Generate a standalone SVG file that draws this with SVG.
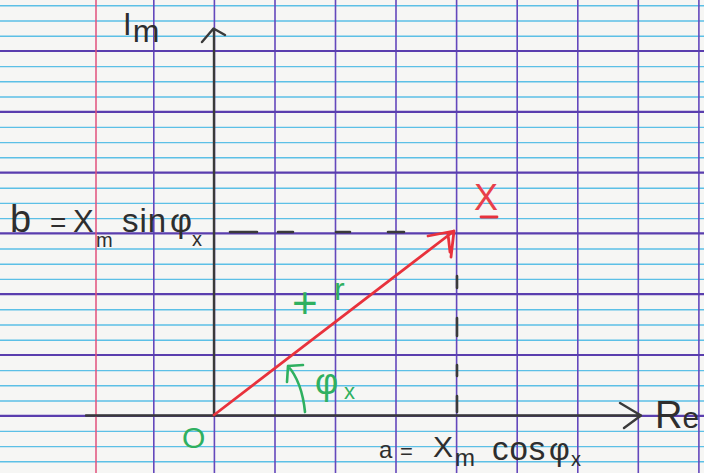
<svg xmlns="http://www.w3.org/2000/svg" width="704" height="473" viewBox="0 0 704 473">
<defs>
<style>
.paper{fill:#f6f6f4}
.blue{stroke:#5cc0e6;stroke-width:1.4;fill:none}
.purh{stroke:#5a3eae;stroke-width:2.2;fill:none}
.purv{stroke:#6448bc;stroke-width:1.6;fill:none}
.margin{stroke:#e0507c;stroke-width:1.5;fill:none}
.axis{stroke:#3a3a3a;stroke-width:2.4;fill:none;stroke-linecap:round;stroke-linejoin:round}
.dash{stroke:#3a3a3a;stroke-width:2.6;fill:none;stroke-linecap:round}
.vec{stroke:#e8323c;stroke-width:2.8;fill:none;stroke-linecap:round;stroke-linejoin:round}
.grn{stroke:#2fb060;stroke-width:2.6;fill:none;stroke-linecap:round;stroke-linejoin:round}
.ink{fill:#2e2e2e;font-family:"Liberation Sans",Arial,sans-serif}
.gtx{fill:#2fb060;font-family:"Liberation Sans",Arial,sans-serif}
.rtx{fill:#e8404a;font-family:"Liberation Sans",Arial,sans-serif}
</style>
</defs>
<rect class="paper" x="0" y="0" width="704" height="473"/>
<g id="grid">
<path class="blue" d="M0 5.8H704M0 21H704M0 36.2H704M0 66.6H704M0 81.8H704M0 97H704M0 127.4H704M0 142.6H704M0 157.8H704M0 188.2H704M0 203.4H704M0 218.6H704M0 249H704M0 264.2H704M0 279.4H704M0 309.8H704M0 325H704M0 340.2H704M0 370.6H704M0 385.8H704M0 401H704M0 431.4H704M0 446.6H704M0 461.8H704"/>
<path class="purv" d="M153.8 0V473M214.4 0V473M275 0V473M335.5 0V473M396 0V473M456.6 0V473M517.2 0V473M577.8 0V473M638.3 0V473M698.9 0V473"/>
<path class="purh" d="M0 51H704M0 111.8H704M0 172.6H704M0 233.4H704M0 294.2H704M0 355H704M0 415.8H704"/>
<path class="margin" d="M96 0V473"/>
</g>
<g id="connectors">
<path id="im-axis" class="axis" d="M214 415.5V29M202 42L213.5 28.5L225 35"/>
<path id="re-axis" class="axis" d="M86 415.5H641M620 403L641 415.5L624 428"/>
<path id="proj-b" class="dash" d="M230 232H257M278 232H293M336 232H350M388 232H404"/>
<path id="proj-a" class="dash" d="M457 276V288M457 318V336M457 365V376M457 396V412"/>
<path id="vector-x" class="vec" d="M214 415L454 231M454 231L428 236M454 231L451 257M448 234L450 252"/>
<path id="angle-arc" class="grn" d="M305 412Q302 382 288 366M288 366L303 365M288 366L287 382"/>
</g>
<g id="label-im"><text class="ink" x="123" y="35" font-size="31">I<tspan font-size="32" dx="1" dy="7">m</tspan></text></g>
<g id="label-re"><text class="ink" x="655" y="428" font-size="38">R<tspan font-size="30">e</tspan></text></g>
<g id="label-b">
<text class="ink" x="10" y="232" font-size="38">b</text>
<text class="ink" x="50" y="232" font-size="28">=</text>
<text class="ink" x="73" y="232" font-size="31">X</text>
<text class="ink" x="96" y="247" font-size="20">m</text>
<text class="ink" x="122" y="232" font-size="33" letter-spacing="1">sin</text>
<text class="ink" x="170" y="232" font-size="34">φ</text>
<text class="ink" x="192" y="246" font-size="20">x</text>
</g>
<g id="label-a">
<text class="ink" x="379" y="458" font-size="24">a</text>
<text class="ink" x="400" y="459" font-size="22">=</text>
<text class="ink" x="433" y="457" font-size="30">X</text>
<text class="ink" x="455" y="466" font-size="24">m</text>
<text class="ink" x="492" y="460" font-size="33" letter-spacing="1">cos</text>
<text class="ink" x="549" y="460" font-size="32">φ</text>
<text class="ink" x="571" y="466" font-size="20">x</text>
</g>
<g id="label-x">
<text class="rtx" x="474" y="210" font-size="36">X</text>
<path class="vec" d="M481 217H497" stroke-width="3"/>
</g>
<g id="label-origin"><text class="gtx" x="182" y="448" font-size="30">O</text></g>
<g id="label-plus"><text class="gtx" x="292" y="318" font-size="44">+</text><text class="gtx" x="334" y="300" font-size="32">r</text></g>
<g id="label-phi"><text class="gtx" x="315" y="394" font-size="36">φ</text><text class="gtx" x="344" y="399" font-size="22">x</text></g>
</svg>
